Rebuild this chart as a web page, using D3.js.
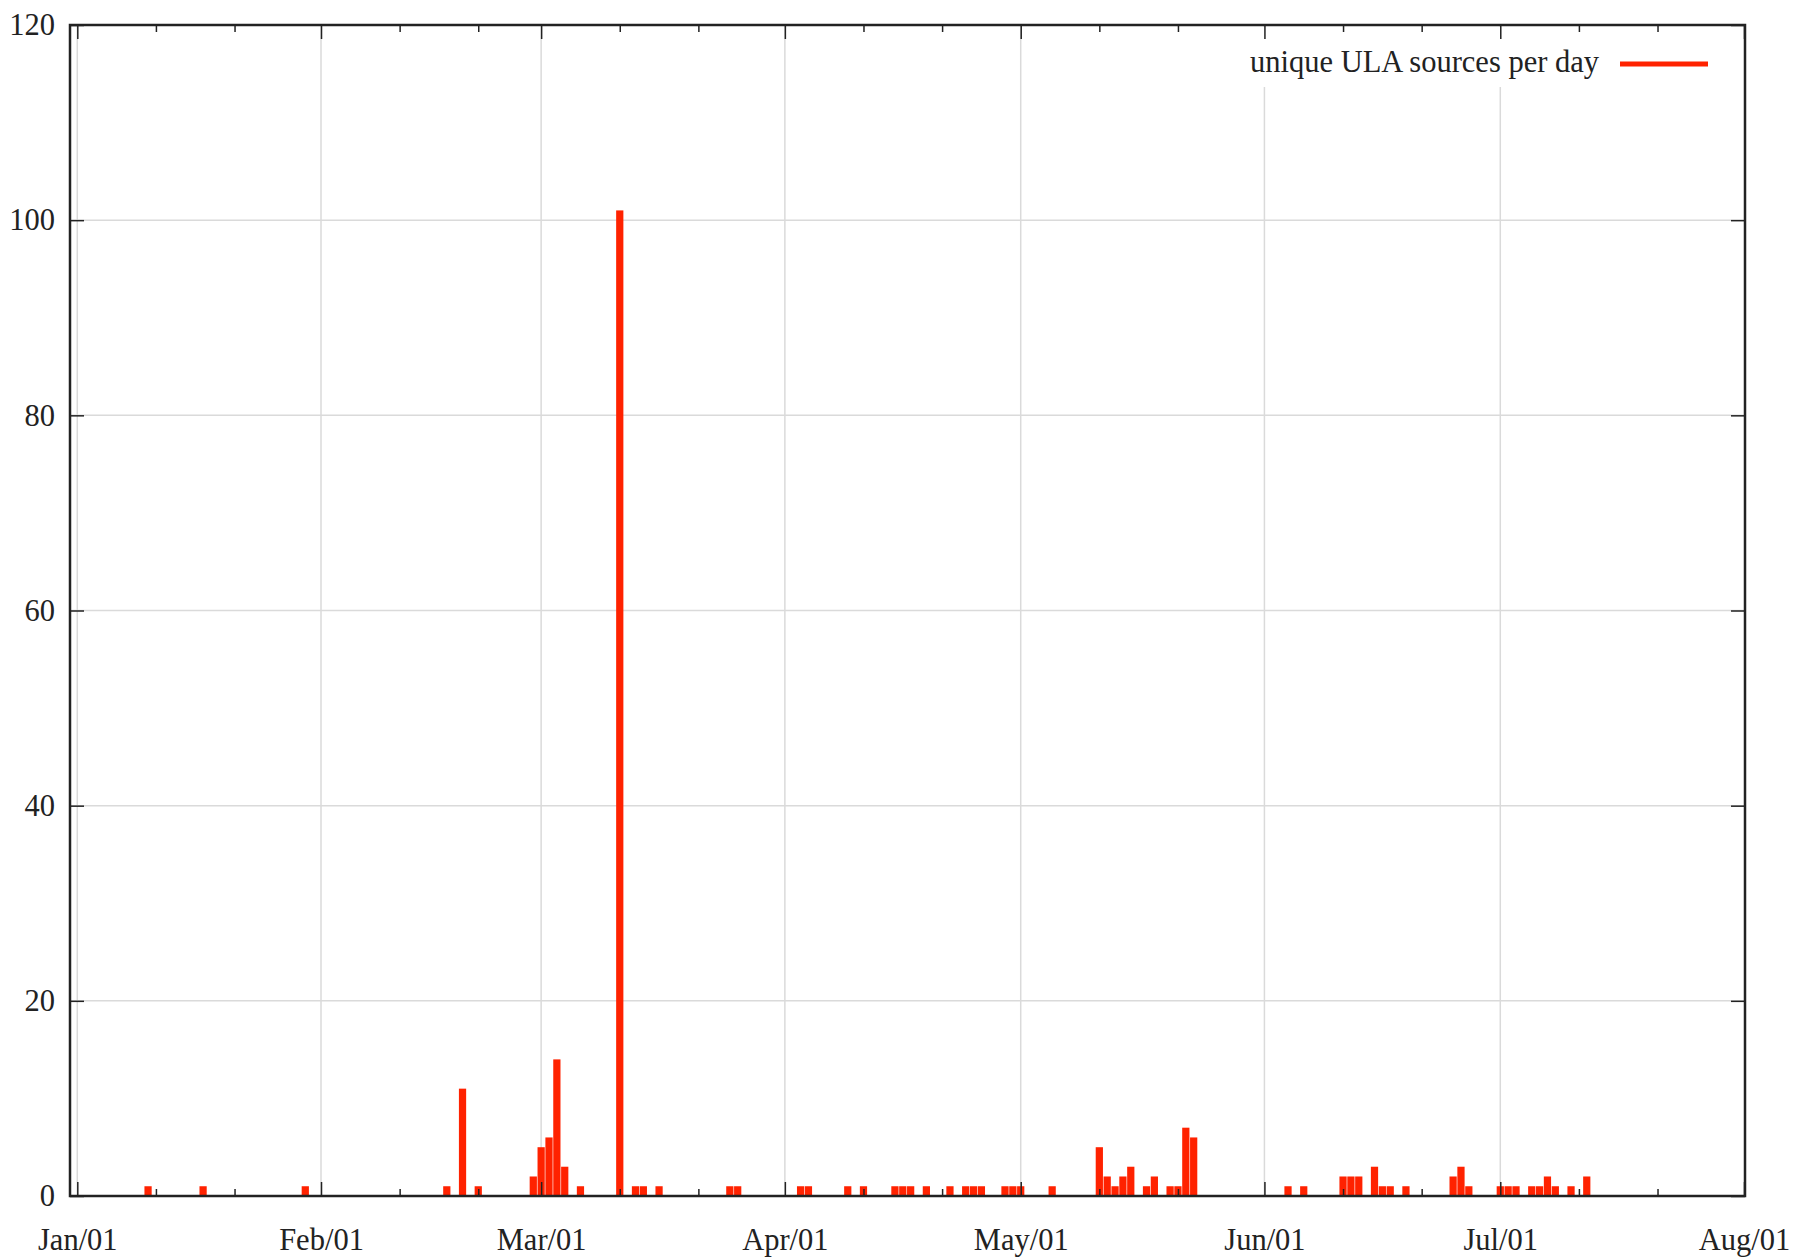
<!DOCTYPE html>
<head>
  <meta charset="utf-8">
  <title>unique ULA sources per day</title>
  <style>
    body {margin: 0; background: #fff;}
    text {font-family: "Liberation Serif", "Times New Roman", serif; fill: #222;}
    .grid line {stroke: #dadada; stroke-width: 1.5;}
    .axis path {display: none;}
    .axis line {stroke: #222; stroke-width: 1.5;}
    .axis text {font-size: 30.5px;}
    .frame {fill: none; stroke: #222; stroke-width: 2.5;}
  </style>
</head>
<body>
  <svg width="1795" height="1258"></svg>
  <script src="https://cdn.jsdelivr.net/npm/d3@7"></script>
  <script>
    // days with at least one ULA source, and how many
    var days = [
      "2011-01-10","2011-01-17","2011-01-30","2011-02-17","2011-02-19","2011-02-21",
      "2011-02-28","2011-03-01","2011-03-02","2011-03-03","2011-03-04","2011-03-06",
      "2011-03-11","2011-03-13","2011-03-14","2011-03-16","2011-03-25","2011-03-26",
      "2011-04-03","2011-04-04","2011-04-09","2011-04-11","2011-04-15","2011-04-16",
      "2011-04-17","2011-04-19","2011-04-22","2011-04-24","2011-04-25","2011-04-26",
      "2011-04-29","2011-04-30","2011-05-01","2011-05-05","2011-05-11","2011-05-12",
      "2011-05-13","2011-05-14","2011-05-15","2011-05-17","2011-05-18","2011-05-20",
      "2011-05-21","2011-05-22","2011-05-23","2011-06-04","2011-06-06","2011-06-11",
      "2011-06-12","2011-06-13","2011-06-15","2011-06-16","2011-06-17","2011-06-19",
      "2011-06-25","2011-06-26","2011-06-27","2011-07-01","2011-07-02","2011-07-03",
      "2011-07-05","2011-07-06","2011-07-07","2011-07-08","2011-07-10","2011-07-12"
    ];
    var sources = [
      1, 1, 1, 1, 11, 1,
      2, 5, 6, 14, 3, 1,
      101, 1, 1, 1, 1, 1,
      1, 1, 1, 1, 1, 1,
      1, 1, 1, 1, 1, 1,
      1, 1, 1, 1, 5, 2,
      1, 2, 3, 1, 2, 1,
      1, 7, 6, 1, 1, 2,
      2, 2, 3, 1, 1, 1,
      2, 3, 1, 1, 1, 1,
      1, 1, 2, 1, 1, 2
    ];
    var monthTicks = ["2011-01-01","2011-02-01","2011-03-01","2011-04-01",
                      "2011-05-01","2011-06-01","2011-07-01","2011-08-01"];
    var yTicks = [0, 20, 40, 60, 80, 100, 120];
    var seriesName = "unique ULA sources per day";

    var parseDate = d3.timeParse("%Y-%m-%d");
    var data = days.map(function(d, i) { return {date: parseDate(d), n: sources[i]}; });
    var months = monthTicks.map(parseDate);
    // minor tics on the 11th and 21st of each month
    var minor = [];
    months.slice(0, -1).forEach(function(m) {
      minor.push(d3.timeDay.offset(m, 10), d3.timeDay.offset(m, 20));
    });

    var svg = d3.select("svg"),
        frame = {left: 70, right: 1745, top: 25, bottom: 1196};

    var x = d3.scaleTime().domain([months[0], months[months.length - 1]]).range([77.3, 1744]),
        y = d3.scaleLinear().domain([0, 120]).range([frame.bottom, frame.top]);

    var barW = (x(months[1]) - x(months[0])) / 31 * 0.92;

    //gridlines
    var grid = svg.append("g").attr("class", "grid");
    grid.selectAll(".gx")
        .data(months.slice(0, -1))
      .enter().append("line")
        .attr("x1", function(d) { return x(d); })
        .attr("x2", function(d) { return x(d); })
        .attr("y1", frame.top)
        .attr("y2", frame.bottom);
    grid.selectAll(".gy")
        .data(yTicks.slice(1, -1))
      .enter().append("line")
        .attr("x1", frame.left)
        .attr("x2", frame.right)
        .attr("y1", function(d) { return y(d); })
        .attr("y2", function(d) { return y(d); });

    //opaque key box
    svg.append("rect")
        .attr("x", 1232).attr("y", frame.top + 2)
        .attr("width", frame.right - 1234).attr("height", 60)
        .attr("fill", "#fff");

    //bars
    svg.append("g")
      .selectAll("rect")
        .data(data)
      .enter().append("rect")
        .attr("x", function(d) { return x(d.date) - barW / 2; })
        .attr("width", barW)
        .attr("y", function(d) { return y(d.n); })
        .attr("height", function(d) { return y(0) - y(d.n); })
        .attr("fill", "#ff2200");

    //axes, ticks pointing inward on all four sides
    var fmt = d3.timeFormat("%b/%d");
    svg.append("g")
        .attr("class", "axis")
        .attr("transform", "translate(0," + frame.bottom + ")")
        .call(d3.axisBottom(x).tickValues(months).tickSize(-14).tickPadding(32).tickFormat(fmt));
    svg.append("g")
        .attr("class", "axis")
        .attr("transform", "translate(0," + frame.bottom + ")")
        .call(d3.axisBottom(x).tickValues(minor).tickSize(-7).tickFormat(""));
    svg.append("g")
        .attr("class", "axis")
        .attr("transform", "translate(0," + frame.top + ")")
        .call(d3.axisTop(x).tickValues(months).tickSize(-14).tickFormat(""));
    svg.append("g")
        .attr("class", "axis")
        .attr("transform", "translate(0," + frame.top + ")")
        .call(d3.axisTop(x).tickValues(minor).tickSize(-7).tickFormat(""));
    svg.append("g")
        .attr("class", "axis")
        .attr("transform", "translate(" + frame.left + ",0)")
        .call(d3.axisLeft(y).tickValues(yTicks).tickSize(-14).tickPadding(15));
    svg.append("g")
        .attr("class", "axis")
        .attr("transform", "translate(" + frame.right + ",0)")
        .call(d3.axisRight(y).tickValues(yTicks).tickSize(-14).tickFormat(""));

    svg.append("rect")
        .attr("class", "frame")
        .attr("x", frame.left).attr("y", frame.top)
        .attr("width", frame.right - frame.left)
        .attr("height", frame.bottom - frame.top);

    //legend
    var key = svg.append("g");
    key.append("text")
        .attr("x", 1599).attr("y", 72)
        .attr("text-anchor", "end")
        .style("font-size", "30.5px")
        .text(seriesName);
    key.append("line")
        .attr("x1", 1620).attr("x2", 1708)
        .attr("y1", 64).attr("y2", 64)
        .attr("stroke", "#ff2200")
        .attr("stroke-width", 5);
  </script>
</body>
